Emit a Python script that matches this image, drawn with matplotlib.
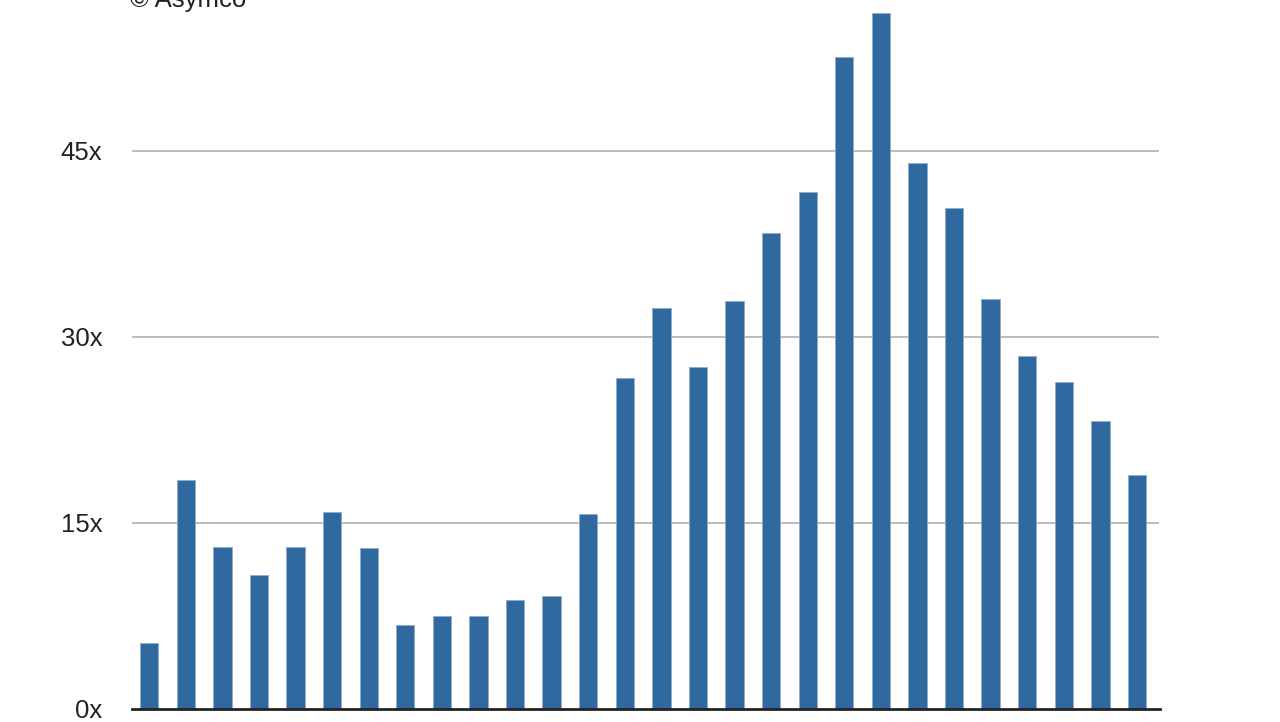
import matplotlib
matplotlib.use("Agg")
import matplotlib.pyplot as plt

plt.rcParams['font.family'] = ['Liberation Sans', 'DejaVu Sans']

values = [5.3, 18.5, 13.1, 10.8, 13.1, 15.9, 13.0, 6.8, 7.5, 7.5, 8.8, 9.1,
          15.7, 26.7, 32.3, 27.6, 32.9, 38.4, 41.7, 52.6, 56.1, 44.0, 40.4,
          33.1, 28.5, 26.4, 23.2, 18.9]
yticks = [0, 15, 30, 45]
ytick_labels = ["0x", "15x", "30x", "45x"]
credit = "© Asymco"

fig = plt.figure(figsize=(12.8, 7.22), dpi=100)
ax = fig.add_axes([132/1280, 13/722, (1160-132)/1280, 709/722])
x = list(range(len(values)))
ax.bar(x, values, width=0.5, color='#2f69a0', edgecolor='#8eaccb', linewidth=0.6, zorder=3)
ax.set_xlim(-0.47, len(values) - 1 + 0.63)
ax.set_ylim(0, 709/12.4)
ax.set_yticks(yticks)
ax.set_yticklabels(ytick_labels, fontsize=18.5, color='#222222')
ax.tick_params(axis='y', length=0, pad=21.5)
ax.set_xticks([])
for t in yticks[1:]:
    ax.axhline(t, color='#b0b0b0', linewidth=1.2, zorder=1, xmax=(1158-132)/(1160-132))
for s in ['top', 'right', 'left']:
    ax.spines[s].set_visible(False)
ax.spines['bottom'].set_color('#222222')
ax.spines['bottom'].set_linewidth(2)
ax.spines['bottom'].set_zorder(4)
fig.text(130/1280, 1 - 7/722, credit, fontsize=18.5, color='#222222', ha='left', va='baseline')
fig.savefig("out.png", dpi=100, facecolor='white')
